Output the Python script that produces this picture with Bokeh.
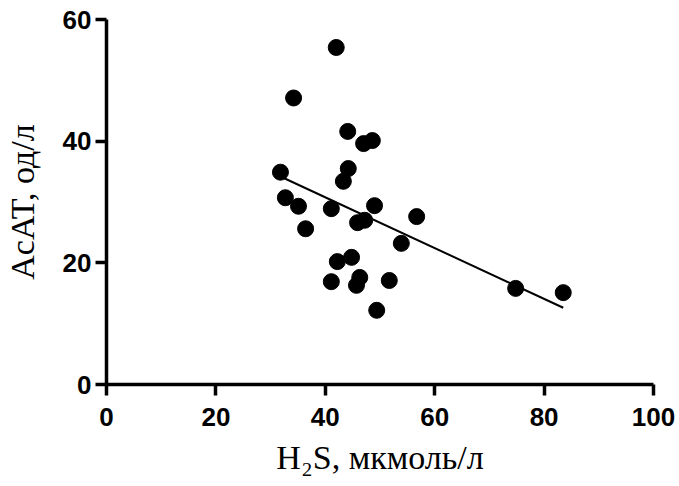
import numpy as np
from bokeh.plotting import figure
from bokeh.models import Range1d, FixedTicker
from bokeh.embed import file_html
from bokeh.resources import INLINE

# H2S (мкмоль/л) and AcAT (од/л) values
h2s = [42.0, 34.2, 44.1, 47.0, 48.6, 44.2, 43.3, 31.8, 32.7, 35.1, 41.1, 49.0, 56.7,
       36.4, 45.9, 47.2, 53.9, 42.2, 44.8, 41.1, 46.3, 45.7, 51.7, 49.4, 74.8, 83.5]
acat = [55.4, 47.1, 41.6, 39.6, 40.1, 35.5, 33.4, 34.9, 30.7, 29.3, 28.9, 29.4, 27.6,
        25.6, 26.6, 27.0, 23.2, 20.2, 20.9, 16.9, 17.6, 16.3, 17.1, 12.2, 15.8, 15.1]
x_ticks = [0, 20, 40, 60, 80, 100]
y_ticks = [0, 20, 40, 60]

# linear regression fit over the data range
slope, intercept = np.polyfit(h2s, acat, 1)
fit_x = [min(h2s), max(h2s)]
fit_y = [slope * v + intercept for v in fit_x]

p = figure(width=679, height=486, output_backend="svg", toolbar_location=None,
           x_range=Range1d(0, 100), y_range=Range1d(0, 60),
           min_border_left=106, min_border_right=26, min_border_top=19, min_border_bottom=102)
p.outline_line_color = None
p.grid.visible = False
p.background_fill_color = "white"
p.border_fill_color = "white"

p.line(fit_x, fit_y, line_color="black", line_width=2)
p.scatter(h2s, acat, size=16, fill_color="black", line_color="black")

p.xaxis.ticker = FixedTicker(ticks=x_ticks)
p.yaxis.ticker = FixedTicker(ticks=y_ticks)
for ax in (p.xaxis, p.yaxis):
    ax.axis_line_width = 3.5
    ax.major_tick_line_width = 3.5
    ax.major_tick_out = 11
    ax.major_tick_in = 0
    ax.minor_tick_line_color = None
    ax.major_label_text_font = "Liberation Sans"
    ax.major_label_text_font_style = "bold"
    ax.major_label_text_font_size = "26px"
    ax.major_label_text_color = "black"
    ax.axis_label_text_font = "Liberation Serif"
    ax.axis_label_text_font_style = "normal"
    ax.axis_label_text_font_size = "34px"
    ax.axis_label_text_color = "black"

p.xaxis.axis_label = "H₂S, мкмоль/л"
p.yaxis.axis_label = "AcAT, од/л"
p.xaxis.major_label_standoff = 12
p.yaxis.major_label_standoff = 4
p.xaxis.axis_label_standoff = 10
p.yaxis.axis_label_standoff = 19

open("out.html", "w").write(file_html(p, INLINE))
